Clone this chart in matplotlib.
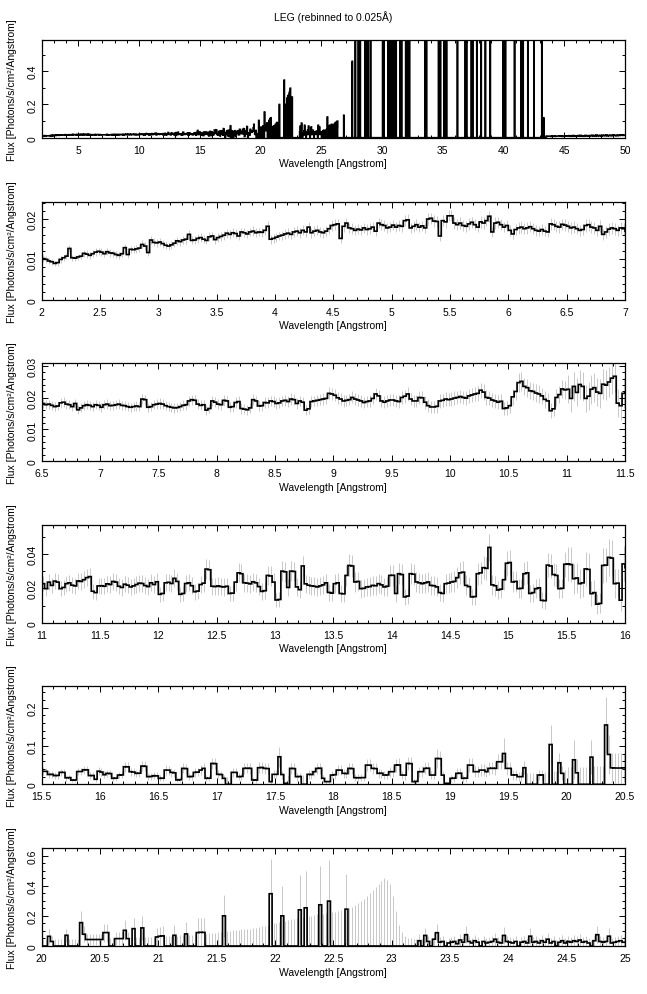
import numpy as np
import matplotlib
matplotlib.use("Agg")
import matplotlib.pyplot as plt
from matplotlib.ticker import MultipleLocator, FormatStrFormatter

plt.rcParams['font.family'] = ['Liberation Sans', 'DejaVu Sans']
plt.rcParams['font.size'] = 7.5

BIN = 0.025      # Angstrom
UNIT = 1e-4      # flux values below are in units of 1e-4 photons/s/cm2/A

# ---- fine spectrum 2.0 - 25.0 A, 0.025 A bins ----
flux_a = [  # 2.0 - 6.5
    102, 100, 96, 94, 90, 92, 100, 104, 108, 127, 104, 103, 106, 108, 115, 113, 110, 114, 118, 120,
    118, 114, 119, 116, 115, 112, 110, 114, 129, 112, 125, 124, 126, 128, 137, 133, 117, 148, 142, 141,
    143, 139, 135, 133, 136, 140, 146, 144, 148, 150, 162, 147, 148, 152, 154, 150, 147, 156, 158, 149,
    154, 157, 160, 165, 162, 166, 164, 158, 168, 166, 163, 168, 170, 166, 168, 167, 172, 182, 150, 152,
    155, 158, 160, 163, 165, 162, 168, 170, 166, 172, 168, 180, 166, 170, 172, 168, 166, 170, 176, 184,
    186, 188, 152, 182, 190, 178, 176, 172, 175, 173, 178, 174, 176, 180, 170, 190, 186, 184, 178, 180,
    185, 180, 184, 182, 196, 198, 178, 182, 186, 180, 183, 178, 200, 202, 195, 194, 158, 196, 193, 208,
    208, 190, 186, 190, 184, 182, 188, 192, 186, 180, 193, 190, 196, 207, 168, 190, 192, 186, 180, 184,
    172, 163, 174, 178, 180, 176, 178, 181, 176, 172, 170, 174, 170, 168, 188, 186, 182, 180, 187, 185,
]
flux_b = [  # 6.5 - 11.0
    182, 178, 180, 176, 172, 174, 184, 186, 180, 178, 172, 182, 162, 168, 175, 178, 176, 172, 178, 176,
    170, 178, 180, 175, 176, 178, 180, 176, 175, 172, 170, 172, 174, 172, 196, 194, 170, 172, 178, 180,
    182, 180, 175, 172, 170, 168, 169, 172, 176, 178, 190, 194, 192, 180, 176, 178, 161, 166, 190, 186,
    180, 178, 192, 190, 170, 172, 185, 188, 166, 164, 162, 168, 194, 190, 174, 175, 185, 184, 190, 188,
    182, 184, 190, 192, 188, 196, 194, 182, 190, 186, 161, 165, 188, 190, 192, 194, 196, 198, 214, 212,
    208, 200, 196, 190, 192, 194, 201, 196, 193, 190, 185, 188, 190, 198, 212, 206, 190, 186, 190, 193,
    193, 190, 188, 201, 205, 212, 196, 190, 190, 201, 200, 186, 175, 171, 171, 173, 190, 192, 196, 194,
    196, 199, 201, 204, 201, 199, 206, 209, 212, 214, 224, 218, 201, 199, 193, 190, 186, 189, 166, 168,
    175, 203, 220, 248, 252, 236, 232, 222, 220, 215, 212, 206, 195, 190, 159, 165, 201, 210, 228, 225,
]
flux_c = [  # 11.0 - 15.5
    227, 198, 236, 217, 242, 236, 198, 205, 227, 232, 218, 214, 243, 240, 250, 262, 268, 183, 175, 214,
    215, 212, 226, 222, 240, 236, 212, 205, 224, 218, 208, 214, 222, 230, 228, 216, 210, 232, 222, 238,
    165, 170, 232, 235, 228, 258, 240, 165, 170, 228, 232, 215, 180, 184, 222, 230, 312, 308, 212, 210,
    214, 210, 208, 212, 170, 172, 236, 290, 285, 232, 230, 226, 238, 232, 210, 182, 186, 275, 272, 236,
    132, 135, 300, 296, 205, 300, 298, 208, 192, 330, 226, 218, 214, 212, 208, 214, 220, 232, 176, 172,
    227, 232, 170, 168, 275, 333, 330, 237, 240, 198, 200, 208, 210, 217, 215, 227, 220, 208, 212, 275,
    276, 170, 285, 280, 150, 155, 285, 282, 237, 232, 227, 232, 237, 217, 215, 208, 175, 170, 227, 230,
    237, 240, 262, 290, 294, 217, 210, 150, 152, 285, 290, 320, 316, 438, 220, 215, 190, 195, 250, 346,
    350, 237, 240, 198, 200, 285, 290, 170, 175, 198, 203, 130, 128, 335, 330, 280, 275, 198, 200, 340,
]
flux_d = [  # 15.5 - 20.0
    342, 338, 256, 260, 227, 232, 313, 310, 169, 175, 108, 112, 333, 335, 380, 376, 227, 230, 131, 342,
    320, 250, 286, 280, 156, 160, 242, 245, 459, 455, 329, 320, 286, 290, 476, 470, 199, 205, 225, 220,
    156, 160, 372, 370, 312, 300, 113, 120, 416, 410, 199, 205, 312, 318, 372, 416, 156, 160, 545, 540,
    260, 255, 156, 0, 0, 312, 310, 199, 205, 416, 420, 416, 113, 110, 433, 440, 416, 410, 69, 260,
    260, 719, 255, 26, 0, 416, 410, 199, 205, 0, 0, 260, 255, 329, 416, 420, 156, 69, 70, 242,
    250, 372, 370, 286, 280, 416, 410, 173, 170, 173, 175, 502, 500, 416, 410, 286, 290, 242, 245, 329,
    330, 502, 505, 242, 240, 545, 540, 69, 75, 329, 330, 416, 420, 242, 242, 675, 670, 240, 26, 26,
    156, 160, 286, 290, 156, 160, 502, 500, 329, 330, 372, 370, 329, 416, 420, 416, 589, 589, 805, 416,
    416, 242, 245, 199, 200, 433, 0, 0, 0, 0, 242, 245, 0, 0, 1039, 0, 0, 563, 286, 0,
]
flux_e = [  # 20.0 - 25.0
    0, 0, 640, 300, 0, 0, 0, 0, 710, 0, 0, 0, 0, 1550, 780, 430, 425, 425, 425, 430,
    430, 890, 890, 0, 0, 490, 490, 490, 1040, 490, 0, 1150, 0, 0, 1200, 0, 0, 0, 0, 600,
    650, 670, 0, 0, 0, 710, 0, 0, 0, 800, 0, 0, 0, 890, 910, 900, 0, 0, 0, 0,
    0, 0, 2000, 0, 0, 0, 0, 0, 0, 0, 0, 0, 0, 0, 0, 0, 0, 0, 3467, 0,
    0, 0, 2000, 0, 0, 0, 0, 0, 2400, 0, 2533, 0, 0, 0, 0, 2733, 0, 0, 2978, 0,
    0, 0, 0, 0, 2444, 0, 0, 0, 0, 0, 0, 0, 0, 0, 0, 0, 0, 0, 0, 0,
    0, 0, 0, 0, 0, 0, 0, 0, 0, 350, 0, 700, 300, 0, 450, 880, 250, 300, 0, 200,
    250, 300, 150, 400, 250, 750, 300, 200, 350, 250, 0, 300, 200, 250, 300, 450, 250, 200, 700, 300,
    250, 200, 300, 0, 250, 300, 200, 650, 250, 300, 200, 350, 250, 450, 200, 300, 0, 250, 350, 200,
    300, 250, 350, 300, 400, 250, 300, 200, 0, 350, 750, 300, 250, 300, 650, 200, 250, 300, 350, 250,
]

err_a = [
    8, 8, 8, 8, 7, 8, 8, 8, 8, 9, 8, 8, 8, 8, 9, 9, 8, 9, 9, 9,
    9, 9, 9, 9, 9, 9, 9, 9, 10, 9, 9, 9, 10, 10, 10, 10, 9, 10, 10, 10,
    10, 10, 10, 10, 10, 10, 10, 10, 10, 11, 11, 10, 10, 11, 11, 10, 10, 11, 11, 10,
    11, 11, 11, 11, 11, 11, 11, 11, 11, 11, 11, 11, 12, 11, 11, 11, 12, 12, 11, 11,
    11, 11, 11, 12, 12, 11, 12, 12, 12, 12, 12, 12, 12, 12, 12, 12, 12, 12, 12, 13,
    13, 13, 12, 13, 13, 13, 13, 12, 13, 13, 13, 13, 13, 13, 12, 13, 13, 13, 13, 13,
    13, 13, 13, 13, 14, 14, 13, 13, 14, 13, 13, 13, 14, 14, 14, 14, 12, 14, 14, 14,
    14, 14, 14, 14, 14, 13, 14, 14, 14, 13, 14, 14, 14, 14, 13, 14, 14, 14, 13, 14,
    13, 13, 13, 14, 14, 13, 14, 14, 13, 13, 13, 13, 13, 13, 14, 14, 14, 14, 14, 14,
]
err_b = [
    14, 14, 14, 14, 14, 14, 15, 15, 14, 14, 14, 15, 14, 14, 14, 15, 15, 14, 15, 15,
    15, 15, 15, 15, 15, 15, 15, 15, 15, 15, 15, 15, 15, 15, 16, 16, 15, 15, 15, 15,
    16, 16, 15, 15, 15, 15, 15, 15, 16, 16, 16, 16, 16, 16, 16, 16, 15, 15, 16, 16,
    16, 16, 17, 17, 16, 16, 17, 17, 16, 16, 16, 16, 17, 17, 16, 16, 17, 17, 17, 17,
    17, 17, 17, 17, 17, 18, 18, 17, 17, 17, 16, 16, 17, 17, 18, 18, 18, 18, 19, 19,
    19, 19, 19, 18, 18, 18, 19, 19, 19, 19, 18, 18, 19, 19, 20, 20, 19, 19, 19, 19,
    20, 20, 20, 20, 21, 21, 20, 20, 20, 21, 21, 20, 20, 20, 20, 20, 21, 21, 21, 21,
    22, 22, 22, 22, 22, 22, 23, 23, 23, 23, 24, 24, 23, 23, 23, 23, 23, 23, 22, 22,
    24, 26, 27, 29, 29, 28, 28, 27, 27, 27, 27, 26, 26, 26, 24, 24, 27, 28, 29, 29,
]
err_c = [
    45, 42, 46, 44, 46, 46, 43, 44, 46, 46, 45, 45, 47, 47, 48, 49, 50, 45, 44, 47,
    47, 47, 48, 48, 49, 49, 47, 47, 48, 48, 47, 48, 48, 49, 49, 48, 47, 49, 48, 50,
    44, 44, 50, 50, 50, 52, 51, 44, 44, 50, 50, 49, 46, 46, 50, 51, 57, 57, 50, 50,
    50, 50, 50, 50, 46, 46, 53, 56, 56, 53, 53, 52, 53, 53, 51, 48, 48, 56, 56, 53,
    42, 42, 57, 57, 50, 57, 57, 50, 48, 60, 53, 52, 52, 52, 51, 52, 52, 53, 47, 47,
    55, 55, 48, 48, 60, 64, 64, 56, 56, 52, 52, 53, 53, 54, 54, 55, 55, 53, 54, 60,
    61, 48, 62, 62, 46, 46, 62, 62, 58, 57, 57, 57, 58, 56, 56, 55, 50, 50, 57, 57,
    60, 60, 62, 65, 65, 58, 57, 48, 48, 65, 65, 68, 68, 80, 58, 58, 54, 54, 61, 72,
    74, 61, 61, 56, 56, 66, 66, 52, 52, 56, 56, 46, 46, 72, 72, 66, 66, 56, 56, 72,
]
err_d = [
    100, 100, 88, 88, 83, 83, 97, 97, 72, 72, 58, 58, 100, 100, 106, 106, 83, 83, 64, 102,
    100, 90, 95, 95, 72, 72, 90, 90, 125, 125, 105, 105, 100, 100, 128, 128, 85, 85, 90, 90,
    78, 78, 120, 120, 110, 110, 65, 65, 128, 128, 90, 90, 112, 112, 122, 128, 80, 80, 148, 148,
    105, 105, 82, 200, 200, 115, 115, 92, 92, 135, 135, 135, 70, 70, 138, 138, 135, 135, 55, 105,
    105, 260, 105, 40, 230, 140, 140, 100, 100, 240, 240, 110, 110, 125, 140, 140, 85, 55, 55, 110,
    112, 140, 140, 122, 122, 148, 148, 98, 98, 98, 98, 165, 165, 148, 148, 122, 122, 112, 112, 130,
    135, 170, 170, 115, 115, 180, 180, 60, 60, 135, 135, 155, 155, 115, 115, 260, 200, 115, 40, 40,
    95, 95, 130, 130, 95, 95, 185, 185, 140, 140, 150, 150, 140, 160, 160, 160, 200, 200, 400, 160,
    165, 120, 120, 110, 110, 175, 300, 300, 300, 300, 140, 140, 320, 320, 520, 350, 350, 260, 180, 380,
]
err_e = [
    450, 450, 510, 360, 460, 460, 460, 460, 440, 470, 470, 470, 480, 740, 520, 380, 380, 380, 380, 380,
    390, 600, 600, 520, 520, 420, 420, 420, 670, 420, 560, 720, 580, 580, 800, 600, 600, 620, 620, 620,
    620, 640, 650, 660, 670, 670, 690, 700, 720, 800, 740, 760, 780, 960, 960, 950, 820, 840, 860, 880,
    900, 930, 1400, 1000, 1020, 1040, 1060, 1080, 1100, 1120, 1140, 1160, 1180, 1200, 1250, 1300, 1350, 1400, 2330, 1500,
    1550, 1600, 2000, 1680, 1720, 1760, 1800, 1850, 2300, 1900, 2470, 1980, 2020, 2060, 2100, 2570, 2140, 2180, 2720, 2250,
    2280, 2320, 2360, 2400, 2360, 2500, 2600, 2700, 2850, 3000, 3150, 3300, 3500, 3700, 3900, 4100, 4300, 4500, 4400, 4100,
    3300, 2300, 1400, 900, 650, 550, 500, 480, 450, 470, 450, 500, 380, 420, 400, 560, 360, 380, 400, 320,
    350, 360, 300, 400, 350, 550, 360, 320, 380, 350, 380, 360, 320, 340, 360, 420, 340, 320, 560, 360,
    340, 320, 360, 380, 340, 360, 320, 520, 340, 360, 320, 380, 340, 420, 320, 360, 380, 340, 380, 320,
    360, 340, 380, 360, 400, 340, 360, 320, 400, 380, 580, 360, 340, 360, 540, 320, 340, 360, 380, 340,
]

# ---- overview-only parts (top panel) ----
tail_lo = [  # 25.0 - 27.5, 0.025 A bins
    300, 0, 350, 250, 0, 400, 300, 0, 450, 250, 0, 350, 400, 0, 300, 450, 0, 350, 500, 0,
    1250, 0, 400, 600, 0, 700, 500, 0, 750, 450, 0, 700, 550, 0, 800, 500, 0, 600, 750, 0,
    550, 800, 0, 650, 500, 0, 900, 600, 0, 750, 950, 0, 600, 1000, 0, 0, 0, 0, 0, 0,
    0, 0, 0, 0, 0, 0, 0, 0, 0, 0, 0, 0, 0, 0, 1350, 0, 0, 0, 0, 0,
    0, 0, 0, 0, 0, 0, 0, 0, 0, 0, 0, 0, 0, 0, 0, 0, 0, 0, 0, 0,
]
# 27.5 - 43.5: mostly empty bins with isolated very large values (flux units)
spike_wl = [27.55, 27.8, 28.05, 28.2, 28.6, 28.65, 28.8, 28.85, 29.05, 30.05, 30.15,
            30.5, 30.55, 30.6, 30.65, 30.7, 30.75, 30.8, 30.85, 30.9, 30.95, 31.0, 31.05, 31.1, 31.15,
            31.5, 31.6, 31.95, 32.05, 32.15, 32.25, 33.55, 33.65, 34.65, 34.75, 34.8,
            35.1, 35.2, 35.3, 36.2, 36.85, 36.95, 37.35, 37.45, 37.8, 38.15, 38.5, 38.9,
            39.95, 40.05, 40.15, 40.9, 41.45, 41.6, 42.0, 42.5, 43.15, 43.3]
spike_flux = [0.46] + [3.0] * 56 + [0.12]
tail_hi = [  # 43.5 - 50.0, 0.1 A bins
    80, 90, 85, 95, 80, 90, 100, 85, 95, 90,
    100, 110, 95, 85, 105, 90, 110, 100, 95, 120,
    85, 105, 130, 90, 110, 100, 125, 95, 140, 100,
    90, 115, 135, 100, 120, 95, 130, 110, 145, 100,
    120, 160, 105, 125, 140, 110, 150, 120, 130, 165,
    110, 140, 125, 150, 120, 170, 130, 145, 120, 160,
    135, 150, 175, 140, 160,
]

fine = np.concatenate([flux_a, flux_b, flux_c, flux_d, flux_e]) * UNIT
fine_err = np.concatenate([err_a, err_b, err_c, err_d, err_e]) * UNIT
fine_edges = 2.0 + BIN * np.arange(len(fine) + 1)

# assemble the 2-50 A overview
n_spk = int(round((43.5 - 27.5) / BIN))
spk = np.zeros(n_spk)
idx = np.round((np.array(spike_wl) - 27.5) / BIN).astype(int)
spk[idx] = spike_flux

full = np.concatenate([fine, np.array(tail_lo) * UNIT, spk, np.array(tail_hi) * UNIT])
full_edges = np.concatenate([
    2.0 + BIN * np.arange(len(fine) + len(tail_lo) + n_spk + 1),
    43.5 + 0.1 * np.arange(1, len(tail_hi) + 1),
])

ECOL = '#c8c8c8'


def draw(ax, edges, vals, errs=None):
    if errs is not None:
        cen = 0.5 * (edges[:-1] + edges[1:])
        ax.vlines(cen, np.clip(vals - errs, 0, None), vals + errs, color=ECOL, lw=0.7, zorder=1)
    ax.stairs(vals, edges, baseline=None, color='k', lw=1.2, zorder=2)


# (xmin, xmax, ymax, x major, x minor, y major, y minor)
panels = [
    (2, 50, 0.59, 5, 1, 0.2, 0.1),
    (2, 7, 0.0243, 0.5, 0.1, 0.01, 0.002),
    (6.5, 11.5, 0.031, 0.5, 0.1, 0.01, 0.002),
    (11, 16, 0.057, 0.5, 0.1, 0.02, 0.01),
    (15.5, 20.5, 0.256, 0.5, 0.1, 0.1, 0.02),
    (20, 25, 0.65, 0.5, 0.1, 0.2, 0.05),
]
tops_px = [40.7, 202.7, 364, 525.7, 687.3, 849]
W, H = 647, 995
left_px, right_px, h_px = 41.7, 625, 98

fig = plt.figure(figsize=(W / 100, H / 100), dpi=100)
fig.text((left_px + right_px) / 2 / W, 1 - 17 / H, 'LEG (rebinned to 0.025Å)',
         ha='center', va='center', fontsize=7.5)

for i, (x0, x1, ytop, xmaj, xmin, ymaj, ymin) in enumerate(panels):
    ax = fig.add_axes([left_px / W, 1 - (tops_px[i] + h_px) / H,
                       (right_px - left_px) / W, h_px / H])
    if i == 0:
        draw(ax, full_edges, full)
    else:
        draw(ax, fine_edges, fine, fine_err)
    ax.set_xlim(x0, x1)
    ax.set_ylim(0, ytop)
    ax.xaxis.set_major_locator(MultipleLocator(xmaj))
    ax.xaxis.set_minor_locator(MultipleLocator(xmin))
    ax.yaxis.set_major_locator(MultipleLocator(ymaj))
    ax.yaxis.set_minor_locator(MultipleLocator(ymin))
    ax.xaxis.set_major_formatter(FormatStrFormatter('%g'))
    ax.yaxis.set_major_formatter(FormatStrFormatter('%g'))
    ax.tick_params(which='both', direction='in', top=True, right=True, width=0.7)
    ax.tick_params(which='major', length=4)
    ax.tick_params(which='minor', length=2.2)
    ax.tick_params(axis='x', pad=5, labelsize=7.5)
    ax.tick_params(axis='y', pad=3, labelsize=7.5, labelrotation=90)
    for lab in ax.get_yticklabels():
        lab.set_va('center')
    for sp in ax.spines.values():
        sp.set_linewidth(0.9)
    ax.set_xlabel('Wavelength [Angstrom]', fontsize=7.5)
    ax.xaxis.set_label_coords(0.5, -0.21)
    ax.set_ylabel('Flux [Photons/s/cm²/Angstrom]', fontsize=7.5)
    ax.yaxis.set_label_coords(-0.043, 0.5)

fig.savefig('out.png', dpi=100)
